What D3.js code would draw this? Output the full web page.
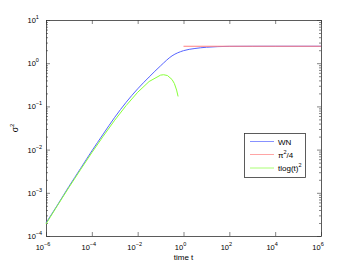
<!DOCTYPE html>
<html>
<head>
<meta charset="utf-8">
<script src="https://cdn.jsdelivr.net/npm/d3@7"></script>
<style>
  body { margin: 0; background: #fff; }
  text { font-family: "Liberation Sans", Arial, sans-serif; fill: #000; }
</style>
</head>
<body>
<div id="container"></div>
<script>
/** CONSTANTS AND GLOBALS */
const width = 354,
  height = 266,
  margin = { top: 20, bottom: 30, left: 46, right: 33 };

/** DATA */
// WN curve
const wnT = [1e-6, 3.16e-6, 1e-5, 3.16e-5, 1e-4, 3.16e-4, 1e-3, 3.16e-3, 1e-2, 3.16e-2,
  0.1, 0.316, 1, 3.16, 10, 31.6, 100, 1000, 1e4, 1e5, 1e6];
const wnV = [2.0e-4, 5.2e-4, 1.4e-3, 3.6e-3, 9.3e-3, 0.023, 0.056, 0.125, 0.255, 0.479,
  0.87, 1.48, 1.95, 2.19, 2.34, 2.42, 2.455, 2.465, 2.467, 2.467, 2.467];
// pi^2/4 level
const piT = [1, 1e6];
const piV = [2.467, 2.467];
// t log(t)^2
const tlT = [1e-6, 3.16e-6, 1e-5, 3.16e-5, 1e-4, 3.16e-4, 1e-3, 3.16e-3, 1e-2, 3.16e-2,
  0.1, 0.135, 0.2, 0.316, 0.4, 0.5, 0.58];
const tlV = [1.9e-4, 5.07e-4, 1.33e-3, 3.39e-3, 8.5e-3, 0.0205, 0.048, 0.105, 0.212, 0.377,
  0.53, 0.541, 0.518, 0.419, 0.338, 0.239, 0.17];

const xTicks = [-6, -4, -2, 0, 2, 4, 6];
const yTicks = [-4, -3, -2, -1, 0, 1];

const series = [
  { name: "WN", t: wnT, v: wnV, color: "#5563ff" },
  { name: "pi", t: piT, v: piV, color: "#ff8080" },
  { name: "tlog", t: tlT, v: tlV, color: "#88ff3a" }
];

/** SCALES */
const x = d3.scaleLog().domain([1e-6, 1e6]).range([margin.left, width - margin.right]);
const y = d3.scaleLog().domain([1e-4, 1e1]).range([height - margin.bottom, margin.top]);

const svg = d3.select("#container")
  .append("svg")
  .attr("width", width)
  .attr("height", height);

// minor tick values for y
const yMinor = [];
for (let e = -4; e < 1; e++) {
  for (let m = 2; m <= 9; m++) yMinor.push(m * Math.pow(10, e));
}
const xMajor = xTicks.map(e => Math.pow(10, e));
const yMajor = yTicks.map(e => Math.pow(10, e));

const x0 = margin.left, x1 = width - margin.right;
const y0 = height - margin.bottom, y1 = margin.top;

function tickAxis(axis, transform) {
  svg.append("g")
    .attr("transform", transform)
    .call(axis)
    .call(g => g.select(".domain").remove())
    .call(g => g.selectAll(".tick line").attr("stroke", "#333").attr("stroke-width", 0.6))
    .call(g => g.selectAll(".tick text").remove());
}

// ticks inside the box
tickAxis(d3.axisBottom(x).tickValues(xMajor).tickSize(-4), `translate(0,${y0})`);
tickAxis(d3.axisTop(x).tickValues(xMajor).tickSize(-4), `translate(0,${y1})`);
tickAxis(d3.axisLeft(y).tickValues(yMajor).tickSize(-4), `translate(${x0},0)`);
tickAxis(d3.axisRight(y).tickValues(yMajor).tickSize(-4), `translate(${x1},0)`);
tickAxis(d3.axisLeft(y).tickValues(yMinor).tickSize(-2), `translate(${x0},0)`);
tickAxis(d3.axisRight(y).tickValues(yMinor).tickSize(-2), `translate(${x1},0)`);

// box
svg.append("rect")
  .attr("x", x0 + 0.5).attr("y", y1 + 0.5)
  .attr("width", x1 - x0).attr("height", y0 - y1)
  .attr("fill", "none").attr("stroke", "#333").attr("stroke-width", 0.8);

// tick labels
function powLabel(sel, e) {
  sel.append("tspan").text("10");
  sel.append("tspan").attr("dy", -4).attr("font-size", 5.5)
    .text(e < 0 ? "\u2212" + (-e) : e);
}

svg.selectAll(".xlab")
  .data(xTicks)
  .join("text")
  .attr("class", "xlab")
  .attr("x", d => x(Math.pow(10, d)) - 3)
  .attr("y", y0 + 14)
  .attr("text-anchor", "middle")
  .attr("font-size", 7.5)
  .each(function(d) { powLabel(d3.select(this), d); });

svg.selectAll(".ylab")
  .data(yTicks)
  .join("text")
  .attr("class", "ylab")
  .attr("x", 27.5)
  .attr("y", d => y(Math.pow(10, d)) + 3)
  .attr("font-size", 7.5)
  .each(function(d) { powLabel(d3.select(this), d); });

// axis labels
svg.append("text")
  .attr("x", (x0 + x1) / 2)
  .attr("y", 260)
  .attr("text-anchor", "middle")
  .attr("font-size", 8)
  .text("time t");

const yl = svg.append("text")
  .attr("transform", `translate(18,${(y0 + y1) / 2}) rotate(-90)`)
  .attr("text-anchor", "middle")
  .attr("font-size", 8.5);
yl.append("tspan").text("\u03c3");
yl.append("tspan").attr("dy", -4).attr("font-size", 6).text("2");

// lines
const smooth = d3.line()
  .x(d => x(d[0]))
  .y(d => y(d[1]))
  .curve(d3.curveMonotoneX);
const straight = d3.line()
  .x(d => x(d[0]))
  .y(d => y(d[1]));

svg.selectAll(".series")
  .data(series)
  .join("path")
  .attr("class", "series")
  .attr("fill", "none")
  .attr("stroke", d => d.color)
  .attr("stroke-width", 1)
  .attr("d", d => (d.name === "WN" ? smooth : straight)(d.t.map((t, i) => [t, d.v[i]])));

// legend
const legend = svg.append("g");
legend.append("rect")
  .attr("x", 244.5).attr("y", 133.5)
  .attr("width", 61).attr("height", 44)
  .attr("fill", "#fff").attr("stroke", "#333").attr("stroke-width", 0.8);

const legRows = [141.5, 154.5, 168];
series.forEach((s, i) => {
  legend.append("line")
    .attr("x1", 250).attr("x2", 274)
    .attr("y1", legRows[i]).attr("y2", legRows[i])
    .attr("stroke", s.color).attr("stroke-width", 1).attr("opacity", 0.7);
  const t = legend.append("text")
    .attr("x", 278).attr("y", legRows[i] + 3)
    .attr("font-size", 8);
  if (i === 0) t.text("WN");
  if (i === 1) {
    t.append("tspan").text("\u03c0");
    t.append("tspan").attr("dy", -4).attr("font-size", 5.5).text("2");
    t.append("tspan").attr("dy", 4).text("/4");
  }
  if (i === 2) {
    t.append("tspan").text("tlog(t)");
    t.append("tspan").attr("dy", -4).attr("font-size", 5.5).text("2");
  }
});
</script>
</body>
</html>
